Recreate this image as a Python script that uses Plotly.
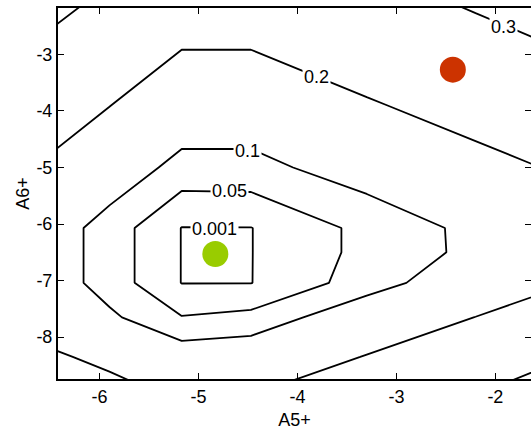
import plotly.graph_objects as go

# Grid of the field (A5+ along x, A6+ along y)
grid_x = [-6.9, -5.9, -5.17, -4.47, -3.3, -2.2, -1.3]
grid_y = [-9.3, -8.35, -7.65, -7.04, -6.5, -6.07, -5.0, -3.9, -2.7, -1.8]
field_z = [
    [0.28,   0.26,   0.21,   0.224,  0.27,   0.318,  0.357],
    [0.2385, 0.1773, 0.1327, 0.1413, 0.2035, 0.2552, 0.2977],
    [0.1757, 0.110,  0.0522, 0.0638, 0.1439, 0.201,  0.247],
    [0.1657, 0.0767, 0.0,    0.0,    0.0742, 0.145,  0.196],
    [0.1657, 0.0767, 0.0,    0.0,    0.064,  0.1132, 0.168],
    [0.1657, 0.0767, 0.0,    0.0,    0.064,  0.1141, 0.168],
    [0.218,  0.139,  0.0817, 0.084,  0.128,  0.1734, 0.2099],
    [0.27,   0.2015, 0.1433, 0.1379, 0.1918, 0.236,  0.256],
    [0.3185, 0.256,  0.2126, 0.2138, 0.2607, 0.2817, 0.31],
    [0.359,  0.298,  0.285,  0.265,  0.285,  0.32,   0.349],
]
levels = [0.001, 0.05, 0.1, 0.2, 0.3]

# Contour label texts and where they sit on their lines
label_text = ["0.001", "0.05", "0.1", "0.2", "0.3"]
label_x = [-4.84, -4.69, -4.50, -3.81, -1.92]
label_y = [-6.09, -5.42, -4.71, -3.40, -2.52]

point_x = [-2.43, -4.83]
point_y = [-3.27, -6.53]
point_colors = ["#CC3300", "#99CC00"]

x_ticks = [-6, -5, -4, -3, -2]
y_ticks = [-8, -7, -6, -5, -4, -3]

FONT = "Liberation Sans, Arial, Helvetica, sans-serif"

fig = go.Figure()
for lv in levels:
    fig.add_trace(go.Contour(
        x=grid_x, y=grid_y, z=field_z,
        autocontour=False,
        contours=dict(start=lv, end=lv, size=1, coloring="lines", showlabels=False),
        colorscale=[[0, "black"], [1, "black"]],
        line=dict(width=1.8, smoothing=0),
        showscale=False, hoverinfo="skip",
    ))

fig.add_trace(go.Scatter(
    x=point_x, y=point_y, mode="markers",
    marker=dict(size=26, color=point_colors, line=dict(width=0)),
    showlegend=False, hoverinfo="skip",
))

for t, lx, ly in zip(label_text, label_x, label_y):
    fig.add_annotation(x=lx, y=ly, xref="x", yref="y", text=t, showarrow=False,
                       font=dict(family=FONT, size=18, color="black"),
                       bgcolor="white", borderpad=1,
                       xanchor="center", yanchor="middle")

axis_common = dict(
    showline=True, linecolor="black", linewidth=2, mirror="ticks",
    ticks="inside", ticklen=6, tickwidth=1.2, tickcolor="black",
    showgrid=False, zeroline=False, automargin=False,
    tickfont=dict(family=FONT, size=18, color="black"),
)

fig.update_layout(
    width=531, height=430,
    margin=dict(l=58, r=0, t=8, b=51),
    paper_bgcolor="white", plot_bgcolor="white",
    showlegend=False,
    xaxis=dict(range=[-6.42, -1.64], tickvals=x_ticks,
               ticktext=[str(v) for v in x_ticks],
               title=dict(text="A5+", font=dict(family=FONT, size=18, color="black"), standoff=11),
               **axis_common),
    yaxis=dict(range=[-8.74, -2.18], tickvals=y_ticks,
               ticktext=[str(v) for v in y_ticks],
               title=dict(text="A6+", font=dict(family=FONT, size=18, color="black"), standoff=2),
               **axis_common),
)

fig.write_html("out.html", config={"displayModeBar": False},
               post_script="document.body.style.margin='0';")
